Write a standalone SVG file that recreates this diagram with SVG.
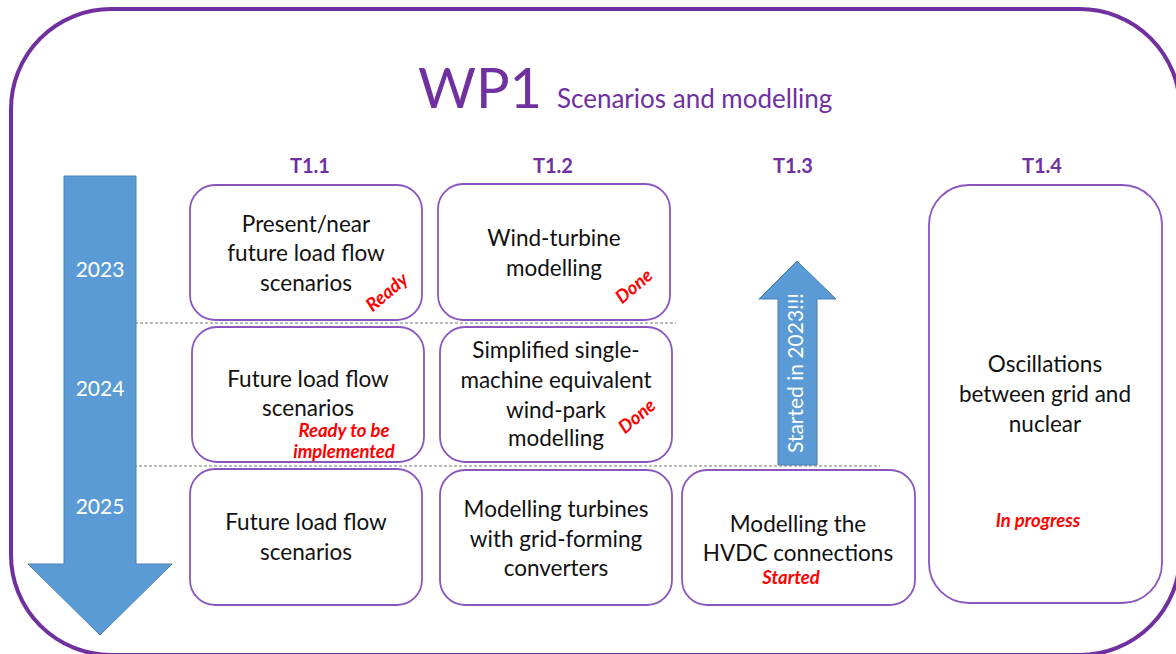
<svg xmlns="http://www.w3.org/2000/svg" width="1176" height="654" viewBox="0 0 1176 654">
<style>
.frame{fill:none;stroke:#7030A0;stroke-width:4}
.box{fill:#fff;stroke:#8B55C0;stroke-width:1.8}
.t{font-family:Lato,"Liberation Sans",sans-serif;font-size:22.5px;fill:#111;text-anchor:middle}
.hd{font-family:Lato,"Liberation Sans",sans-serif;font-size:20px;font-weight:bold;fill:#7030A0;text-anchor:middle}
.st{font-family:Lato,"Liberation Sans",sans-serif;font-size:18.5px;font-weight:bold;font-style:italic;fill:#FF0000;text-anchor:middle}
.yr{font-family:Lato,"Liberation Sans",sans-serif;font-size:21px;fill:#fff;text-anchor:middle}
.arr{fill:#5B9BD5;stroke:#4A7FB0;stroke-width:1}
.dash{stroke:#777;stroke-width:1;stroke-dasharray:3 2;fill:none}
</style>
<rect class="frame" x="11" y="9" width="1169" height="646" rx="100" ry="100"/>
<text x="418" y="108" font-family="Lato,'Liberation Sans',sans-serif" font-size="56" fill="#7030A0">WP1</text>
<text x="557" y="108" font-family="Lato,'Liberation Sans',sans-serif" font-size="26" fill="#7030A0">Scenarios and modelling</text>
<text class="hd" x="310" y="173">T1.1</text>
<text class="hd" x="553" y="173">T1.2</text>
<text class="hd" x="793" y="173">T1.3</text>
<text class="hd" x="1042" y="173">T1.4</text>
<g id="connectors">
<line class="dash" x1="85" y1="323" x2="676" y2="323"/>
<line class="dash" x1="84" y1="466" x2="880" y2="466"/>
</g>
<g id="timeline">
<polygon class="arr" points="64,176 136,176 136,564 172,564 100,635 28,564 64,564"/>
<text class="yr" x="100" y="277">2023</text>
<text class="yr" x="100" y="396">2024</text>
<text class="yr" x="100" y="514">2025</text>
</g>
<g id="t13-arrow">
<polygon class="arr" points="778,465 778,299 759,299 797,261 836,299 817,299 817,465"/>
<text class="yr" font-size="15" transform="translate(803,373) rotate(-90)">Started in 2023!!!</text>
</g>
<g id="t11-2023">
<rect class="box" x="190" y="185" width="232" height="135" rx="25"/>
<text class="t" x="306" y="232">Present/near</text>
<text class="t" x="306" y="261">future load flow</text>
<text class="t" x="306" y="291">scenarios</text>
<text class="st" transform="translate(391,297) rotate(-40)">Ready</text>
</g>
<g id="t11-2024">
<rect class="box" x="192" y="327" width="232" height="135" rx="25"/>
<text class="t" x="308" y="387">Future load flow</text>
<text class="t" x="308" y="416">scenarios</text>
<text class="st" x="344" y="437">Ready to be</text>
<text class="st" x="344" y="458">implemented</text>
</g>
<g id="t11-2025">
<rect class="box" x="190" y="469" width="232" height="136" rx="25"/>
<text class="t" x="306" y="530">Future load flow</text>
<text class="t" x="306" y="560">scenarios</text>
</g>
<g id="t12-2023">
<rect class="box" x="438" y="184" width="232" height="136" rx="25"/>
<text class="t" x="554" y="246">Wind-turbine</text>
<text class="t" x="554" y="276">modelling</text>
<text class="st" transform="translate(638,291) rotate(-40)">Done</text>
</g>
<g id="t12-2024">
<rect class="box" x="440" y="327" width="232" height="135" rx="25"/>
<text class="t" x="556" y="358">Simplified single-</text>
<text class="t" x="556" y="388">machine equivalent</text>
<text class="t" x="556" y="418">wind-park</text>
<text class="t" x="556" y="446">modelling</text>
<text class="st" transform="translate(641,421) rotate(-40)">Done</text>
</g>
<g id="t12-2025">
<rect class="box" x="440" y="470" width="232" height="135" rx="25"/>
<text class="t" x="556" y="517">Modelling turbines</text>
<text class="t" x="556" y="547">with grid-forming</text>
<text class="t" x="556" y="576">converters</text>
</g>
<g id="t13-2025">
<rect class="box" x="682" y="470" width="233" height="135" rx="25"/>
<text class="t" x="798" y="532">Modelling the</text>
<text class="t" x="798" y="561">HVDC connections</text>
<text class="st" x="791" y="584">Started</text>
</g>
<g id="t14">
<rect class="box" x="929" y="185" width="233" height="418" rx="40"/>
<text class="t" x="1045" y="372">Oscillations</text>
<text class="t" x="1045" y="402">between grid and</text>
<text class="t" x="1045" y="432">nuclear</text>
<text class="st" x="1038" y="527" font-size="19.5">In progress</text>
</g>
</svg>
